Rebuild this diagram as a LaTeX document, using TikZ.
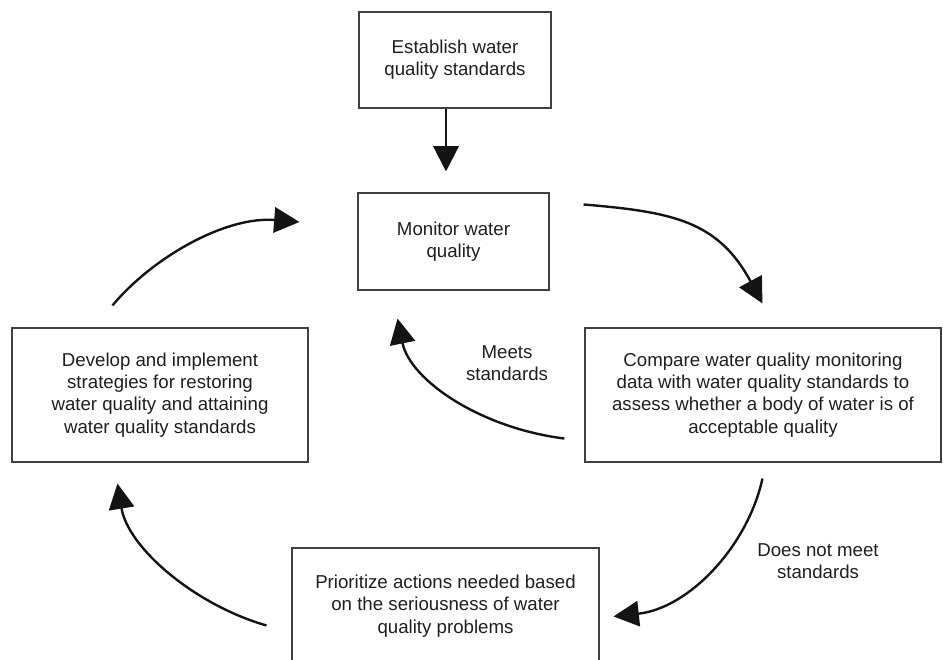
\documentclass[tikz,border=0pt]{standalone}
\usepackage{fontspec}
\setmainfont{Liberation Sans}
\usetikzlibrary{arrows.meta,calc}
\begin{document}
\begin{tikzpicture}[x=0.75pt,y=-0.75pt,
  txt/.style={align=center, text=black!88, font=\fontsize{14}{16.75}\selectfont, inner sep=0pt},
  box/.style={txt, draw=black!75, line width=0.8pt},
  conn/.style={line width=1.8pt, black!92, -{Triangle[length=19pt,width=19pt]}}]
\useasboundingbox (0,0) rectangle (943,660);
\clip (0,0) rectangle (943,660);
% boxes
\node[box, minimum width=144pt, minimum height=72pt] (est) at (455,60) {Establish water\\quality standards};
\node[box, minimum width=143.25pt, minimum height=72.75pt] (mon) at (453.5,241.5) {Monitor water\\quality};
\node[box, minimum width=222pt, minimum height=100.5pt] (dev) at (160,395) {Develop and implement\\strategies for restoring\\water quality and attaining\\water quality standards};
\node[box, minimum width=267pt, minimum height=100.5pt] (cmp) at (763,395) {Compare water quality monitoring\\data with water quality standards to\\assess whether a body of water is of\\acceptable quality};
\node[box, minimum width=230.25pt, minimum height=87pt] (pri) at (445.5,606) {Prioritize actions needed based\\on the seriousness of water\\quality problems};
% labels
\node[txt] (lmeet) at (507,363) {Meets\\standards};
\node[txt] (lnot) at (818,561) {Does not meet\\standards};
% connector end points
\coordinate (t0s) at ($(est.south)+(-9,0)$);
\coordinate (t0e) at ($(mon.north)+(-7.5,-21)$);
\coordinate (a1s) at ($(mon.north east)+(34,12)$);
\coordinate (a1e) at ($(cmp.north west)+(178,-24)$);
\coordinate (a2s) at ($(cmp.south west)+(178,16)$);
\coordinate (a2e) at ($(pri.north east)+(14,69)$);
\coordinate (a3s) at ($(cmp.south west)+(-20,-24)$);
\coordinate (a3e) at ($(mon.south east)+(-152,28)$);
\coordinate (a4s) at ($(pri.north west)+(-25,78)$);
\coordinate (a4e) at ($(dev.south west)+(106,21)$);
\coordinate (a5s) at ($(dev.north west)+(101,-22)$);
\coordinate (a5e) at ($(mon.west)+(-58,-19.5)$);
% connectors
\draw[conn] (t0s) -- (t0e);
\draw[conn] (a1s) .. controls (673,212) and (718,221) .. (a1e);
\draw[conn] (a2s) .. controls (748,545) and (690,608) .. (a2e);
\draw[conn] (a3s) .. controls (480,428) and (410,380) .. (a3e);
\draw[conn] (a4s) .. controls (195,605) and (128,548) .. (a4e);
\draw[conn] (a5s) .. controls (152,258) and (225,216) .. (a5e);
\end{tikzpicture}
\end{document}
